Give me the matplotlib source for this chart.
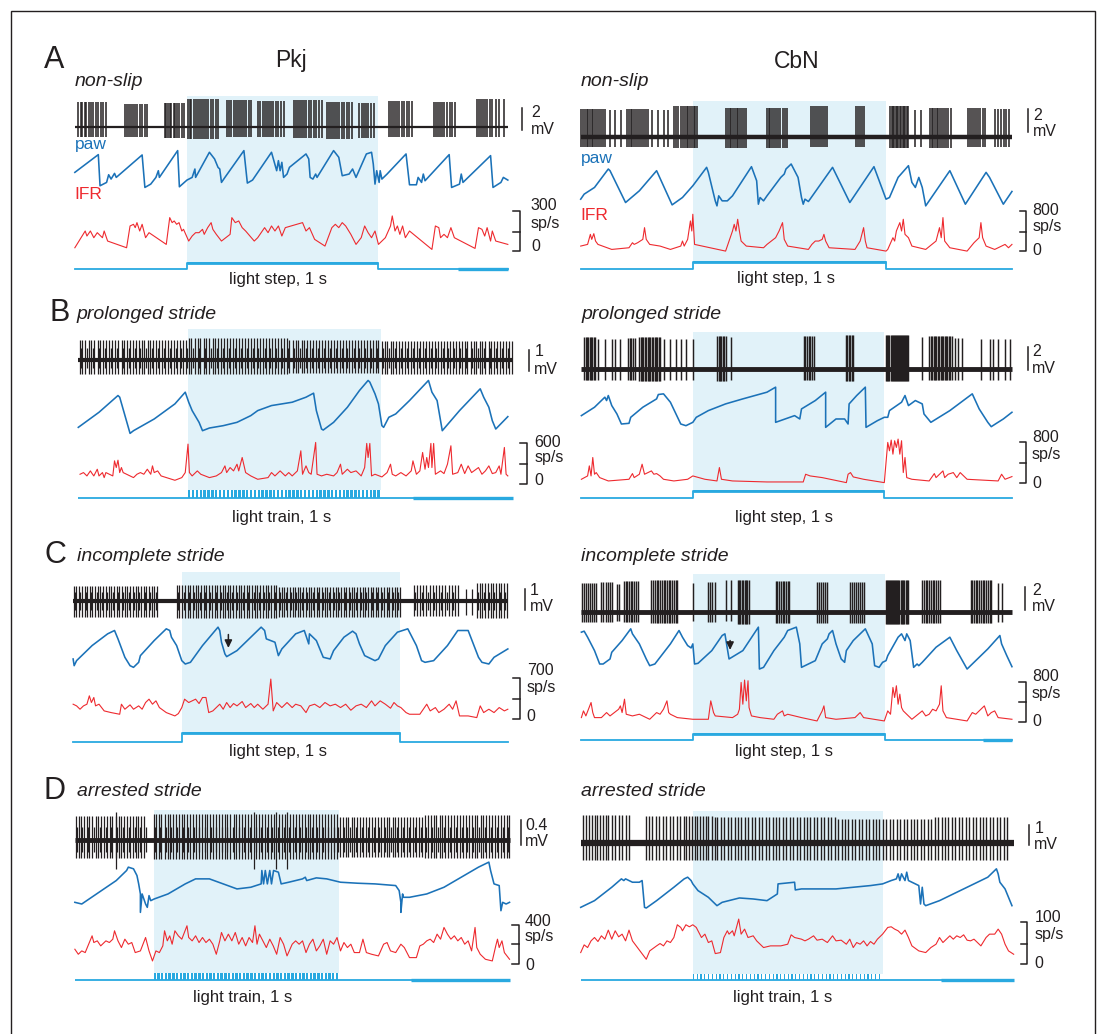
import numpy as np
import matplotlib
matplotlib.use("Agg")
import matplotlib.pyplot as plt
from matplotlib.patches import Rectangle

plt.rcParams['font.family'] = ['Liberation Sans', 'DejaVu Sans']

# ---------------------------------------------------------------- DATA
# Time is in sample units along each trace; amplitudes are in trace units
# (larger value = lower on the page). Spikes: (peak, trough, [spike times]).

# ---- A, Pkj (non-slip, light step)
A_PKJ_SPAN = (130, 1385)
A_PKJ_LIGHT = (455, 1010)
A_PKJ_SPIKES = [
    (215, 320, [140, 147, 152, 158, 163, 170, 176, 183, 190, 197, 205, 212, 220]),
    (222, 318, [275, 281, 287, 293, 299, 305, 311, 318, 325, 332, 340]),
    (218, 322, [390, 395, 400, 405, 410, 416, 421, 427, 433, 440, 447]),
    (205, 325, [458, 463, 468, 474, 480, 486, 492, 498, 504, 510, 517, 524, 531, 538, 545]),
    (210, 318, [572, 578, 584, 590, 596, 602, 608, 614, 620, 627, 634, 641]),
    (212, 320, [662, 668, 674, 680, 686, 692, 698, 705, 712, 720, 728, 736]),
    (210, 322, [765, 771, 777, 783, 789, 795, 801, 808, 815, 822, 830, 838, 845]),
    (215, 325, [860, 866, 872, 878, 884, 890, 896, 903, 910, 918, 926, 934]),
    (218, 322, [955, 961, 967, 973, 980, 988, 997]),
    (212, 318, [1040, 1046, 1052, 1058, 1064, 1070, 1077, 1084, 1092, 1100, 1108]),
    (215, 318, [1170, 1176, 1182, 1188, 1194, 1201, 1208, 1216, 1224, 1232]),
    (205, 318, [1295, 1301, 1307, 1313, 1319, 1325, 1332, 1340, 1350, 1360, 1375]),
]
A_PKJ_PAW = [(130, 425), (198, 372), (203, 465), (222, 455), (228, 432), (235, 445), (245, 428), (250, 440),
             (325, 373), (333, 470), (350, 460), (365, 440), (372, 420), (375, 440), (428, 360), (433, 468),
             (455, 448), (470, 440), (478, 415), (480, 440), (520, 365), (535, 385), (545, 410), (550, 415),
             (555, 455), (565, 440), (620, 360), (630, 457), (645, 448), (700, 365), (715, 420), (720, 390),
             (725, 420), (730, 395), (735, 440), (745, 430), (752, 410), (800, 370), (808, 385), (812, 440),
             (820, 445), (828, 430), (832, 440), (880, 360), (895, 380), (905, 435), (925, 430), (935, 415),
             (945, 440), (975, 370), (990, 365), (995, 400), (1000, 460), (1005, 420), (1012, 455), (1015, 420),
             (1020, 445), (1035, 430), (1090, 370), (1100, 462), (1120, 462), (1125, 440), (1135, 455),
             (1140, 430), (1145, 450), (1215, 372), (1222, 470), (1245, 460), (1250, 430), (1255, 455),
             (1335, 375), (1342, 470), (1365, 455), (1372, 440), (1385, 448)]
A_PKJ_IFR = [(130, 650), (160, 600), (165, 615), (175, 600), (185, 620), (195, 605), (210, 620), (215, 600),
             (225, 630), (280, 650), (290, 585), (300, 580), (305, 590), (310, 575), (318, 600), (325, 580),
             (335, 620), (345, 605), (395, 640), (405, 560), (412, 575), (418, 570), (425, 580), (432, 575),
             (440, 600), (445, 595), (460, 630), (470, 615), (480, 605), (490, 605), (500, 595), (505, 610),
             (515, 590), (525, 575), (530, 595), (540, 610), (555, 630), (580, 610), (585, 560), (595, 575),
             (605, 570), (615, 590), (625, 600), (650, 630), (660, 620), (680, 590), (690, 605), (700, 585),
             (710, 600), (720, 585), (730, 615), (740, 590), (790, 575), (800, 600), (810, 590), (825, 625),
             (855, 645), (875, 590), (885, 580), (895, 590), (905, 575), (915, 585), (930, 610), (945, 640),
             (960, 620), (970, 585), (980, 605), (990, 620), (1000, 600), (1010, 640), (1030, 620), (1045, 585),
             (1050, 555), (1058, 600), (1065, 585), (1072, 610), (1080, 585), (1088, 620), (1100, 600),
             (1165, 655), (1175, 585), (1185, 590), (1190, 620), (1200, 610), (1210, 620), (1220, 590),
             (1230, 620), (1290, 652), (1300, 590), (1310, 595), (1318, 615), (1325, 590), (1335, 630),
             (1340, 600), (1350, 630), (1385, 640)]

# ---- A, CbN (non-slip, light step)
A_CBN_SPAN = (60, 1310)
A_CBN_LIGHT = (385, 945)
A_CBN_SPIKES = [
    (235, 350, [62, 67, 72, 77, 82, 87, 92, 97, 102, 107, 112, 118, 124, 130]),
    (240, 348, [145, 160, 178]),
    (235, 350, [195, 200, 205, 210, 215, 220, 226, 232, 238, 244, 250, 256]),
    (240, 350, [268, 285, 300, 312]),
    (228, 352, [330, 336, 342, 350, 356, 362, 367, 372, 377, 382, 387, 392, 397]),
    (232, 352, [482, 487, 492, 497, 502, 507, 512, 517, 522, 528, 534, 540]),
    (232, 352, [600, 605, 610, 615, 620, 626, 632, 638, 645, 652, 658]),
    (228, 350, [727, 732, 738, 744, 750, 756, 762, 768, 774]),
    (228, 350, [858, 864, 870, 876, 882]),
    (228, 352, [957, 961, 965, 969, 973, 977, 981, 985, 989, 993, 997, 1001, 1005, 1010]),
    (240, 348, [1030, 1045]),
    (232, 352, [1072, 1077, 1082, 1087, 1092, 1097, 1102, 1108, 1114, 1120, 1126, 1132]),
    (232, 350, [1182, 1188, 1194, 1200, 1206, 1212, 1218, 1225, 1232]),
    (235, 350, [1262, 1270, 1278, 1286, 1294, 1302]),
]
A_CBN_PAW = [(60, 505), (70, 490), (100, 470), (140, 415), (145, 420), (190, 515), (230, 480), (280, 420),
             (325, 522), (355, 500), (385, 465), (425, 410), (430, 425), (450, 510), (455, 525), (460, 495),
             (470, 510), (485, 510), (500, 495), (555, 408), (570, 450), (575, 520), (580, 500), (590, 510),
             (600, 495), (640, 440), (650, 430), (655, 415), (670, 400), (690, 440), (700, 500), (705, 520),
             (710, 505), (720, 512), (790, 410), (840, 515), (910, 408), (945, 505), (955, 500), (980, 440),
             (1010, 405), (1020, 455), (1030, 470), (1040, 440), (1050, 470), (1060, 525), (1130, 420),
             (1175, 520), (1235, 425), (1245, 440), (1285, 520), (1310, 482)]
A_CBN_IFR = [(60, 645), (80, 640), (88, 610), (92, 625), (98, 608), (103, 630), (110, 640), (150, 655),
             (200, 650), (210, 635), (215, 640), (225, 635), (240, 625), (245, 590), (250, 625), (260, 640),
             (290, 645), (320, 655), (350, 645), (355, 630), (360, 645), (370, 625), (378, 570), (382, 600),
             (385, 550), (390, 640), (480, 660), (490, 630), (500, 600), (505, 580), (510, 600), (515, 565),
             (520, 600), (525, 630), (540, 645), (590, 650), (600, 640), (625, 620), (635, 600), (645, 575),
             (650, 625), (660, 645), (720, 655), (730, 640), (740, 630), (750, 630), (760, 625), (765, 610),
             (770, 630), (780, 650), (855, 655), (870, 630), (880, 590), (885, 630), (890, 650), (945, 660),
             (950, 655), (965, 620), (970, 630), (975, 600), (985, 575), (990, 600), (995, 565), (1000, 610),
             (1010, 620), (1020, 645), (1060, 655), (1090, 630), (1100, 590), (1105, 620), (1110, 560),
             (1115, 630), (1130, 650), (1180, 660), (1200, 635), (1215, 620), (1220, 575), (1225, 620),
             (1235, 645), (1260, 655), (1290, 640), (1300, 650), (1310, 640)]

# ---- B, Pkj (prolonged stride, light train)
B_PKJ_SPAN = (140, 1400)
B_PKJ_LIGHT = (458, 1018)
B_PKJ_SPIKES = [
    (150, 250, [145, 152, 160, 171, 178, 186, 197, 204, 213, 221, 230, 238, 247, 255, 266, 273, 281, 290, 299,
                306, 316, 324, 331, 341, 349, 357, 366, 374, 383, 391, 400, 409, 417, 426, 434, 443, 451]),
    (142, 252, [460, 468, 477, 486, 494, 503, 511, 520, 529, 537, 546, 555, 563, 572, 580, 589, 598, 606, 615,
                623, 632, 641, 649, 658, 666, 675, 684, 692, 701, 709, 718, 727, 735, 744]),
    (150, 248, [752, 761, 770, 778, 787, 795, 804, 813, 821, 830, 838, 847, 856, 864, 873, 881, 890, 899, 907,
                916, 924, 933, 942, 950, 959, 967, 976, 985, 993, 1002, 1010]),
    (152, 250, [1019, 1028, 1036, 1045, 1053, 1062, 1071, 1079, 1088, 1096, 1105, 1114, 1122, 1131, 1139, 1148,
                1157, 1165, 1174, 1182, 1191, 1200, 1208, 1217, 1225, 1234, 1243, 1251, 1260, 1268, 1277,
                1286, 1294, 1303, 1311, 1320, 1329, 1337, 1346, 1354, 1363, 1372, 1380, 1389, 1396]),
    (172, 232, [148, 165, 182, 200, 217, 234, 251, 269, 286, 303, 320, 337, 354, 371, 388, 405, 422, 439, 455,
                472, 490, 507, 524, 541, 559, 576, 593, 611, 628, 645, 662, 680, 697, 714, 731, 748, 766,
                783, 800, 817, 834, 852, 869, 886, 903, 920, 938, 955, 972, 989, 1006, 1024, 1041, 1058,
                1075, 1092, 1110, 1127, 1144, 1161, 1178, 1196, 1213, 1230, 1247, 1264, 1282, 1299, 1316,
                1333, 1350, 1368, 1385]),
]
B_PKJ_PAW = [(140, 410), (200, 365), (255, 315), (260, 320), (290, 428), (300, 420), (360, 385), (420, 340),
             (450, 305), (460, 335), (470, 360), (490, 395), (500, 420), (520, 412), (560, 405), (600, 395),
             (640, 375), (660, 360), (700, 345), (760, 335), (800, 320), (822, 308), (830, 360), (845, 415),
             (850, 418), (880, 395), (920, 350), (955, 300), (980, 270), (985, 275), (1000, 310), (1010, 340),
             (1020, 405), (1025, 410), (1040, 380), (1060, 370), (1100, 330), (1155, 270), (1165, 305),
             (1180, 330), (1195, 420), (1245, 360), (1305, 295), (1315, 320), (1330, 350), (1340, 390),
             (1350, 415), (1385, 378)]
B_PKJ_IFR = [(145, 550), (155, 545), (165, 555), (175, 540), (180, 548), (185, 555), (195, 535), (200, 555),
             (210, 545), (215, 560), (220, 545), (240, 555), (245, 510), (250, 530), (255, 508), (260, 545),
             (265, 530), (270, 545), (300, 560), (310, 550), (320, 545), (330, 550), (340, 535), (350, 550),
             (355, 525), (360, 545), (370, 540), (380, 555), (420, 568), (440, 560), (450, 545), (458, 460),
             (462, 545), (470, 555), (485, 540), (495, 550), (520, 560), (540, 555), (555, 545), (565, 525),
             (570, 545), (580, 530), (590, 540), (600, 520), (605, 540), (615, 500), (625, 545), (640, 555),
             (660, 565), (690, 560), (700, 545), (710, 555), (725, 540), (740, 555), (750, 545), (760, 555),
             (775, 540), (785, 480), (790, 550), (800, 525), (808, 545), (815, 550), (828, 455), (832, 550),
             (845, 555), (860, 550), (880, 555), (890, 545), (900, 520), (905, 550), (920, 535), (930, 545),
             (945, 540), (960, 555), (970, 530), (976, 458), (980, 500), (985, 458), (990, 555), (1000, 550),
             (1020, 558), (1035, 545), (1045, 520), (1050, 550), (1060, 555), (1075, 545), (1090, 555),
             (1105, 540), (1110, 510), (1120, 550), (1130, 540), (1138, 485), (1145, 535), (1150, 500),
             (1155, 530), (1162, 458), (1165, 530), (1170, 458), (1175, 550), (1190, 540), (1200, 548),
             (1210, 520), (1220, 465), (1225, 550), (1240, 545), (1250, 520), (1260, 548), (1270, 525),
             (1280, 545), (1300, 530), (1310, 550), (1320, 540), (1330, 525), (1340, 548), (1350, 545),
             (1360, 525), (1365, 550), (1375, 470), (1380, 550), (1385, 555)]

# ---- B, CbN (prolonged stride, light step)
B_CBN_SPAN = (62, 1310)
B_CBN_LIGHT = (385, 940)
B_CBN_SPIKES = [
    (140, 270, [70, 74, 78, 82, 86, 90, 94, 98, 102]),
    (145, 268, [110, 130, 150, 158, 175]),
    (142, 270, [197, 202, 207, 212, 217]),
    (140, 272, [230, 234, 238, 242, 246, 250, 254, 258, 262, 266, 270, 274, 278, 282, 286, 290]),
    (145, 268, [300, 320, 335, 350, 365, 385]),
    (138, 272, [456, 460, 464, 468, 472, 476, 480]),
    (140, 268, [495]),
    (138, 270, [706, 711, 716, 721, 726, 731, 736]),
    (135, 272, [829, 833, 837, 841, 845, 849]),
    (135, 272, [946, 949, 952, 955, 958, 961, 964, 967, 970, 973, 976, 979, 982, 985, 988, 991, 994, 997,
                1000, 1003, 1006, 1009]),
    (140, 268, [1050]),
    (138, 270, [1071, 1075, 1079, 1083, 1087, 1091, 1095, 1099, 1103, 1107, 1111, 1115, 1119, 1123, 1127,
                1131, 1135]),
    (142, 270, [1145, 1155, 1165]),
    (145, 270, [1220, 1245, 1255, 1270, 1290, 1305]),
]
B_CBN_PAW = [(62, 375), (100, 350), (130, 320), (135, 330), (140, 315), (150, 345), (165, 370), (178, 400),
             (200, 398), (205, 380), (240, 350), (280, 325), (285, 312), (300, 310), (320, 335), (350, 400),
             (365, 405), (385, 395), (395, 380), (430, 360), (480, 340), (530, 325), (600, 305), (625, 290),
             (625, 395), (680, 375), (695, 385), (700, 355), (740, 330), (770, 305), (770, 410), (800, 385),
             (825, 385), (835, 400), (838, 340), (860, 315), (885, 290), (887, 410), (920, 390), (940, 380),
             (950, 380), (955, 360), (990, 335), (1000, 315), (1010, 345), (1030, 330), (1050, 340),
             (1055, 370), (1075, 395), (1130, 360), (1195, 310), (1215, 355), (1240, 395), (1250, 408),
             (1265, 398), (1285, 385), (1310, 365)]
B_CBN_IFR = [(62, 565), (80, 555), (85, 525), (90, 555), (95, 500), (100, 550), (105, 545), (115, 560),
             (140, 570), (200, 565), (210, 548), (215, 560), (230, 550), (238, 520), (245, 550), (255, 545),
             (265, 540), (272, 550), (280, 548), (290, 555), (300, 565), (330, 570), (370, 565), (385, 555),
             (420, 565), (455, 570), (462, 530), (468, 565), (500, 570), (600, 573), (705, 573), (712, 550),
             (725, 555), (760, 560), (830, 575), (835, 550), (842, 545), (850, 558), (880, 565), (940, 575),
             (950, 455), (955, 480), (960, 448), (965, 490), (970, 450), (975, 470), (980, 445), (985, 490),
             (990, 450), (995, 545), (1000, 500), (1005, 560), (1020, 565), (1070, 570), (1085, 548),
             (1090, 560), (1100, 550), (1110, 540), (1115, 560), (1125, 550), (1140, 545), (1150, 560),
             (1160, 545), (1170, 555), (1180, 565), (1270, 570), (1280, 550), (1290, 565), (1310, 557)]

# ---- C, Pkj (incomplete stride, light step)
C_PKJ_SPAN = (125, 1385)
C_PKJ_LIGHT = (440, 1072)
C_PKJ_SPIKES = [
    (168, 260, [127, 134, 142, 150, 158, 165, 173, 181, 189, 197, 204, 212, 220, 228, 236, 243, 251, 259, 267,
                275, 282, 290, 298, 306, 314, 321, 329, 337, 345, 353, 360, 368]),
    (165, 262, [426, 433, 441, 449, 457, 464, 472, 480, 488, 496, 503, 511, 519, 527, 535, 542, 550, 558, 566,
                574, 581, 589, 597, 605, 613, 620, 628, 636, 644, 652, 659, 667, 675, 683, 691, 698, 706, 714]),
    (170, 260, [722, 730, 737, 745, 753, 761, 769, 776, 784, 792, 800, 808, 815, 823, 831, 839, 847, 854, 862,
                870, 878, 886, 893, 901, 909, 917, 925, 932, 940, 948, 956, 964, 971, 979, 987, 995, 1003,
                1010, 1018, 1026, 1034, 1042, 1049, 1057, 1065, 1072]),
    (165, 258, [1112, 1121, 1130, 1140, 1149, 1158, 1167, 1177, 1186, 1195, 1204, 1214, 1223, 1232, 1240]),
    (175, 255, [1265, 1280]),
    (158, 262, [1296, 1303, 1311, 1319, 1327, 1335, 1342, 1350, 1358, 1366, 1374, 1382]),
    (185, 240, [130, 146, 162, 177, 193, 208, 224, 240, 255, 271, 286, 302, 317, 333, 349, 364, 430, 445, 461,
                476, 492, 507, 523, 539, 554, 570, 585, 601, 616, 632, 648, 663, 679, 694, 710, 726, 741,
                757, 772, 788, 803, 819, 835, 850, 866, 881, 897, 912, 928, 944, 959, 975, 990, 1006, 1021,
                1037, 1053, 1068, 1117, 1135, 1153, 1172, 1190, 1209, 1227, 1300, 1315, 1331, 1346, 1362,
                1378]),
]
C_PKJ_PAW = [(125, 385), (128, 405), (135, 390), (180, 345), (225, 310), (245, 300), (255, 325), (275, 380),
             (290, 405), (300, 410), (315, 395), (320, 375), (360, 330), (395, 295), (405, 300), (410, 320),
             (425, 345), (440, 390), (450, 400), (465, 395), (500, 345), (545, 290), (550, 300), (555, 335),
             (565, 370), (570, 378), (600, 360), (640, 320), (670, 290), (680, 300), (685, 325), (710, 335),
             (720, 375), (730, 355), (770, 310), (795, 300), (808, 340), (810, 310), (830, 330), (850, 380),
             (870, 385), (880, 360), (910, 320), (935, 302), (945, 310), (955, 340), (970, 375), (1000, 390),
             (1010, 385), (1030, 345), (1065, 305), (1095, 295), (1100, 305), (1120, 345), (1135, 390),
             (1145, 395), (1170, 390), (1210, 345), (1240, 300), (1270, 300), (1285, 340), (1300, 380),
             (1310, 395), (1330, 400), (1345, 380), (1385, 355)]
C_PKJ_IFR = [(125, 520), (135, 525), (145, 535), (155, 525), (165, 520), (172, 495), (178, 515), (185, 500),
             (190, 525), (200, 520), (215, 540), (235, 545), (260, 550), (265, 520), (275, 535), (290, 522),
             (300, 535), (315, 525), (325, 535), (335, 515), (345, 505), (355, 520), (365, 510), (375, 530),
             (395, 545), (420, 555), (430, 548), (440, 530), (448, 505), (460, 515), (480, 505), (490, 518),
             (500, 500), (510, 500), (518, 545), (530, 540), (550, 520), (560, 535), (570, 515), (580, 530),
             (590, 518), (600, 525), (615, 512), (625, 530), (640, 518), (650, 530), (660, 520), (675, 535),
             (690, 520), (698, 445), (705, 540), (715, 515), (730, 530), (745, 515), (760, 530), (770, 520),
             (785, 525), (800, 545), (810, 525), (825, 520), (840, 530), (855, 515), (870, 525), (885, 520),
             (900, 530), (915, 520), (930, 538), (945, 525), (960, 520), (975, 530), (990, 510), (1000, 525),
             (1015, 510), (1030, 520), (1045, 532), (1055, 515), (1065, 525), (1075, 530), (1090, 545),
             (1100, 550), (1130, 550), (1150, 520), (1160, 540), (1175, 530), (1185, 545), (1200, 535),
             (1215, 520), (1225, 535), (1235, 510), (1245, 555), (1270, 555), (1295, 560), (1305, 525),
             (1315, 545), (1330, 535), (1345, 545), (1360, 530), (1375, 540), (1385, 535)]
C_PKJ_ARROW = (575, 312, 352)

# ---- C, CbN (incomplete stride, light step)
C_CBN_SPAN = (62, 1310)
C_CBN_LIGHT = (385, 942)
C_CBN_SPIKES = [
    (158, 275, [65, 70, 75, 80, 86, 92, 98, 104]),
    (155, 275, [120, 126, 132, 138, 144, 150]),
    (160, 272, [165, 172]),
    (152, 275, [185, 190, 195, 200, 205, 210, 215, 220, 225]),
    (150, 278, [265, 270, 275, 280, 285, 290, 295, 300, 305, 310, 315, 320, 325, 330, 335, 340]),
    (158, 272, [385]),
    (155, 275, [430, 436, 442, 448]),
    (150, 272, [480, 495]),
    (150, 280, [515, 519, 523, 527, 531, 535, 539, 543, 547]),
    (152, 278, [625, 630, 635, 640, 645, 650, 655, 660, 665]),
    (155, 278, [745, 751, 757, 763, 769, 775]),
    (155, 278, [840, 846, 852, 858, 864, 870, 876, 880]),
    (150, 280, [945, 948, 951, 954, 957, 960, 963, 966, 969, 972, 975, 978, 981, 984, 987, 990, 994, 998,
                1002, 1006, 1010]),
    (150, 278, [1050, 1055, 1060, 1065, 1070, 1075, 1080, 1085, 1090, 1095, 1100]),
    (150, 278, [1190, 1195, 1200, 1205, 1210, 1215, 1220, 1225, 1230, 1235, 1240, 1245, 1250]),
    (158, 275, [1270, 1282]),
]
C_CBN_PAW = [(62, 305), (70, 302), (80, 320), (100, 360), (115, 400), (125, 400), (145, 385), (150, 365),
             (180, 330), (205, 295), (210, 310), (230, 340), (250, 385), (260, 405), (275, 400), (290, 380),
             (320, 340), (345, 300), (355, 320), (370, 345), (380, 352), (385, 340), (390, 400), (400, 398),
             (440, 360), (470, 315), (478, 310), (490, 385), (530, 360), (575, 290), (578, 415), (590, 410),
             (620, 360), (650, 320), (660, 300), (685, 290), (695, 340), (700, 410), (710, 405), (720, 400),
             (740, 390), (760, 340), (775, 325), (780, 310), (790, 300), (800, 340), (815, 385), (825, 395),
             (830, 360), (850, 330), (885, 295), (905, 340), (912, 405), (925, 410), (935, 395), (945, 390),
             (950, 375), (980, 320), (990, 310), (1000, 330), (1005, 310), (1015, 330), (1025, 410),
             (1035, 400), (1040, 405), (1050, 395), (1090, 350), (1130, 320), (1150, 360), (1180, 415),
             (1240, 355), (1275, 315), (1280, 340), (1295, 375), (1310, 408)]
C_CBN_IFR = [(62, 560), (68, 540), (75, 555), (90, 515), (95, 545), (100, 560), (120, 560), (135, 545),
             (145, 555), (170, 535), (175, 525), (180, 545), (187, 505), (192, 550), (210, 555), (230, 550),
             (260, 565), (280, 545), (290, 550), (300, 535), (310, 510), (315, 545), (320, 550), (340, 560),
             (385, 565), (430, 565), (437, 510), (445, 545), (450, 555), (500, 560), (515, 550), (520, 535),
             (525, 455), (530, 520), (535, 448), (540, 510), (545, 450), (548, 530), (555, 555), (580, 560),
             (620, 565), (630, 550), (645, 540), (650, 555), (660, 550), (700, 560), (745, 570), (760, 540),
             (765, 525), (770, 560), (800, 565), (855, 560), (870, 545), (880, 560), (940, 570), (950, 540),
             (958, 550), (965, 470), (970, 500), (975, 465), (980, 520), (985, 490), (990, 530), (995, 540),
             (1000, 545), (1020, 565), (1050, 540), (1060, 555), (1070, 550), (1080, 535), (1090, 540),
             (1100, 520), (1105, 465), (1110, 540), (1120, 560), (1180, 570), (1195, 545), (1205, 550),
             (1215, 540), (1230, 525), (1240, 555), (1250, 545), (1260, 540), (1270, 560), (1310, 565)]
C_CBN_ARROW = (493, 330, 358)

# ---- D, Pkj (arrested stride, light train)
D_PKJ_SPAN = (130, 1390)
D_PKJ_LIGHT = (358, 897)
D_PKJ_SPIKES = [
    (138, 262, [132, 141, 148, 157, 165, 172, 181, 190, 197, 206, 214, 223, 232, 239, 248, 257, 265, 272,
                281, 291, 298, 306, 314, 323, 331]),
    (132, 265, [360, 366, 374, 381, 390, 399, 406, 415, 422, 431, 440, 447, 456, 465, 473, 480, 489, 498,
                506, 513, 522, 531, 539, 547, 556, 564, 572, 581, 590, 597, 606, 615, 622, 631, 640, 656,
                664, 673, 681, 690, 699, 706, 722, 730, 738, 754, 763, 770, 779, 788, 796, 805, 813, 821,
                830, 838, 847, 855, 864, 872, 881, 889]),
    (140, 260, [898, 906, 915, 923, 932, 940, 949, 957, 966, 974, 983, 991, 1000, 1008, 1017, 1025, 1034,
                1042, 1051, 1059, 1068, 1076, 1085, 1093, 1102, 1110, 1119, 1127, 1136]),
    (135, 262, [1144, 1153, 1161, 1170, 1178, 1187, 1195, 1204, 1212, 1221, 1229, 1238, 1246, 1255, 1263,
                1272, 1280, 1289, 1297, 1306, 1314, 1323, 1331, 1340, 1348, 1357, 1365, 1374, 1382, 1389]),
    (125, 295, [250, 648, 712, 745]),
    (170, 245, [136, 152, 169, 186, 202, 219, 236, 253, 269, 286, 303, 319, 336, 363, 378, 394, 410, 426,
                443, 459, 475, 491, 508, 524, 540, 556, 572, 589, 605, 621, 637, 654, 670, 686, 702, 718,
                735, 751, 767, 783, 799, 816, 832, 848, 864, 880, 894, 911, 928, 945, 962, 979, 996, 1013,
                1030, 1047, 1064, 1081, 1098, 1115, 1132, 1149, 1166, 1183, 1200, 1217, 1234, 1251, 1268,
                1285, 1302, 1319, 1336, 1353, 1370, 1386]),
]
D_PKJ_PAW = [(130, 395), (150, 400), (200, 365), (250, 330), (280, 300), (285, 290), (300, 295), (310, 315),
             (315, 340), (320, 370), (320, 425), (325, 370), (335, 400), (340, 410), (345, 375), (350, 390),
             (360, 385), (400, 370), (450, 340), (480, 325), (520, 325), (560, 340), (600, 355), (640, 350),
             (670, 340), (672, 300), (677, 340), (682, 300), (688, 340), (695, 300), (700, 340), (706, 300),
             (720, 305), (728, 340), (750, 335), (790, 325), (798, 320), (802, 330), (830, 322), (860, 325),
             (900, 335), (950, 338), (1000, 340), (1060, 345), (1070, 360), (1075, 395), (1075, 425),
             (1080, 370), (1082, 380), (1100, 380), (1150, 370), (1200, 350), (1250, 320), (1300, 290),
             (1330, 275), (1335, 300), (1345, 340), (1360, 345), (1365, 420), (1370, 395), (1380, 400),
             (1390, 395)]
D_PKJ_IFR = [(130, 535), (140, 550), (150, 540), (160, 545), (170, 520), (180, 495), (185, 515), (195, 510),
             (205, 525), (210, 520), (220, 510), (230, 515), (240, 505), (245, 480), (255, 510), (265, 530),
             (275, 505), (285, 520), (295, 515), (305, 545), (320, 540), (335, 500), (345, 540), (355, 570),
             (365, 540), (375, 545), (385, 525), (390, 480), (398, 510), (405, 495), (412, 520), (420, 480),
             (430, 495), (440, 505), (455, 465), (460, 500), (470, 510), (480, 495), (490, 515), (500, 500),
             (510, 515), (520, 505), (530, 520), (540, 550), (550, 510), (555, 485), (565, 510), (575, 490),
             (585, 510), (595, 485), (605, 520), (615, 500), (625, 525), (635, 500), (645, 515), (652, 465),
             (658, 520), (665, 490), (675, 510), (685, 530), (695, 505), (705, 525), (715, 550), (725, 500),
             (735, 520), (745, 555), (760, 520), (770, 510), (780, 520), (790, 510), (800, 545), (810, 520),
             (820, 505), (830, 540), (840, 525), (850, 505), (860, 550), (870, 510), (880, 520), (890, 500),
             (900, 540), (910, 515), (920, 530), (930, 520), (940, 545), (955, 545), (965, 505), (975, 545),
             (990, 550), (1010, 555), (1025, 520), (1035, 515), (1045, 540), (1060, 545), (1075, 520),
             (1085, 530), (1100, 560), (1120, 560), (1130, 525), (1140, 520), (1150, 510), (1160, 505),
             (1170, 515), (1180, 490), (1190, 505), (1200, 470), (1210, 490), (1220, 505), (1230, 495),
             (1240, 510), (1250, 500), (1260, 520), (1270, 510), (1280, 540), (1290, 470), (1295, 530),
             (1305, 550), (1320, 565), (1340, 570), (1350, 525), (1355, 505), (1360, 530), (1368, 510),
             (1375, 545), (1390, 565)]

# ---- D, CbN (arrested stride, light train)
D_CBN_SPAN = (60, 1315)
D_CBN_LIGHT = (385, 935)
D_CBN_SPIKES = [
    (135, 268, [68, 76, 84, 92, 100, 108, 116, 124, 132, 140, 150, 160, 170, 180, 190, 200]),
    (138, 270, [248, 258, 268, 278, 288, 298, 308, 318, 328, 338, 348, 358, 366, 374, 382, 390, 398, 406,
                414, 422, 430, 440]),
    (140, 270, [448, 456, 466, 476, 486, 496, 506, 516, 526, 536, 546, 556, 566, 576, 586, 596, 606, 616,
                626, 636, 646, 656, 666, 676, 686, 696, 706, 716, 726, 736, 746, 756, 766, 776, 786, 796]),
    (145, 268, [806, 816, 826, 836, 846, 856, 866, 876, 886, 896, 906, 916, 926, 936, 946, 956, 966, 976,
                986, 996, 1006, 1016, 1026, 1036, 1046, 1056, 1066, 1076]),
    (140, 270, [1086, 1096, 1106, 1116, 1126, 1136, 1146, 1156, 1166, 1176, 1186, 1196, 1206, 1216, 1226,
                1236, 1246, 1256, 1266, 1276, 1286, 1296]),
]
D_CBN_PAW = [(60, 410), (100, 390), (150, 350), (178, 325), (185, 330), (190, 325), (200, 330), (210, 335),
             (230, 335), (238, 330), (245, 410), (250, 412), (280, 390), (330, 350), (360, 325), (370, 320),
             (380, 330), (385, 340), (400, 360), (430, 380), (455, 405), (470, 395), (520, 382), (560, 385),
             (600, 390), (630, 370), (632, 340), (680, 335), (682, 358), (700, 355), (750, 355), (800, 355),
             (850, 350), (900, 345), (935, 340), (960, 330), (975, 325), (980, 310), (985, 330), (990, 310),
             (1000, 330), (1005, 305), (1010, 330), (1020, 335), (1040, 345), (1045, 400), (1050, 350),
             (1055, 400), (1060, 405), (1100, 390), (1150, 365), (1200, 340), (1240, 320), (1265, 295),
             (1270, 310), (1275, 335), (1290, 355), (1310, 405)]
D_CBN_IFR = [(60, 545), (70, 522), (80, 530), (90, 510), (100, 500), (110, 512), (120, 495), (130, 505),
             (140, 478), (150, 505), (160, 480), (170, 498), (180, 490), (190, 510), (200, 478), (210, 510),
             (250, 565), (260, 540), (280, 525), (290, 518), (300, 525), (310, 510), (320, 515), (330, 500),
             (340, 462), (350, 470), (355, 480), (365, 462), (375, 468), (385, 462), (395, 470), (410, 500),
             (420, 490), (430, 515), (440, 510), (450, 548), (465, 545), (475, 500), (485, 480), (490, 490),
             (500, 480), (505, 495), (518, 445), (525, 490), (535, 475), (545, 500), (560, 495), (570, 510),
             (580, 520), (590, 530), (610, 525), (640, 525), (660, 520), (670, 492), (680, 500), (700, 505),
             (710, 510), (720, 505), (735, 495), (745, 508), (760, 505), (775, 515), (790, 495), (800, 510),
             (815, 508), (830, 520), (840, 505), (850, 530), (860, 515), (870, 520), (880, 510), (890, 525),
             (900, 512), (910, 520), (920, 505), (935, 490), (950, 470), (960, 468), (970, 475), (980, 480),
             (990, 490), (1000, 478), (1010, 500), (1020, 525), (1040, 540), (1060, 545), (1075, 530),
             (1090, 520), (1100, 500), (1110, 515), (1120, 505), (1130, 495), (1140, 505), (1150, 495),
             (1160, 500), (1170, 492), (1180, 508), (1190, 510), (1200, 505), (1210, 515), (1220, 525),
             (1235, 500), (1245, 490), (1260, 490), (1270, 475), (1280, 490), (1290, 520), (1300, 540),
             (1315, 550)]

LIGHT_TRAIN_PULSES = 50   # pulses in the 1-s light train

# scale-bar labels
MV_LABELS = {'A_PKJ': '2', 'A_CBN': '2', 'B_PKJ': '1', 'B_CBN': '2',
             'C_PKJ': '1', 'C_CBN': '2', 'D_PKJ': '0.4', 'D_CBN': '1'}
IFR_LABELS = {'A_PKJ': '300', 'A_CBN': '800', 'B_PKJ': '600', 'B_CBN': '800',
              'C_PKJ': '700', 'C_CBN': '800', 'D_PKJ': '400', 'D_CBN': '100'}
CONDITIONS = {'A': 'non-slip', 'B': 'prolonged stride', 'C': 'incomplete stride', 'D': 'arrested stride'}
STIM_LABELS = {'A_PKJ': 'light step, 1 s', 'A_CBN': 'light step, 1 s', 'B_PKJ': 'light train, 1 s',
               'B_CBN': 'light step, 1 s', 'C_PKJ': 'light step, 1 s', 'C_CBN': 'light step, 1 s',
               'D_PKJ': 'light train, 1 s', 'D_CBN': 'light train, 1 s'}

DATA = {
    'A_PKJ': (A_PKJ_SPAN, A_PKJ_LIGHT, A_PKJ_SPIKES, A_PKJ_PAW, A_PKJ_IFR),
    'A_CBN': (A_CBN_SPAN, A_CBN_LIGHT, A_CBN_SPIKES, A_CBN_PAW, A_CBN_IFR),
    'B_PKJ': (B_PKJ_SPAN, B_PKJ_LIGHT, B_PKJ_SPIKES, B_PKJ_PAW, B_PKJ_IFR),
    'B_CBN': (B_CBN_SPAN, B_CBN_LIGHT, B_CBN_SPIKES, B_CBN_PAW, B_CBN_IFR),
    'C_PKJ': (C_PKJ_SPAN, C_PKJ_LIGHT, C_PKJ_SPIKES, C_PKJ_PAW, C_PKJ_IFR),
    'C_CBN': (C_CBN_SPAN, C_CBN_LIGHT, C_CBN_SPIKES, C_CBN_PAW, C_CBN_IFR),
    'D_PKJ': (D_PKJ_SPAN, D_PKJ_LIGHT, D_PKJ_SPIKES, D_PKJ_PAW, D_PKJ_IFR),
    'D_CBN': (D_CBN_SPAN, D_CBN_LIGHT, D_CBN_SPIKES, D_CBN_PAW, D_CBN_IFR),
}

# ---------------------------------------------------------------- LAYOUT / STYLE
W, H = 1099, 1034
SX, SY = 0.345, 0.335          # figure pixels per trace unit
BLACK = '#231f20'
BLUE = '#1b72b8'
RED = '#ee2a2f'
LIGHT = '#29a9e0'
SHADE = '#e1f2f9'

LAYOUT = {
    'A_PKJ': dict(o=(30, 30), h=260, base=290, blw=1.6, slw=1.1, shade=198, lo=712, hi=695, train=False,
                  thick=1240, mvx=1427, mvy=(233, 300), mvt=(1452, 247, 296), brx=1420, bry=(540, 602, 660),
                  brt=(1452, 523, 577, 645), stim=(720, 745)),
    'A_CBN': dict(o=(560, 30), h=260, base=320, blw=3.2, slw=1.1, shade=212, lo=712, hi=693, train=False,
                  thick=None, mvx=1357, mvy=(235, 305), mvt=(1372, 254, 303), brx=1352, bry=(540, 602, 660),
                  brt=(1370, 540, 587, 658), stim=(655, 742)),
    'B_PKJ': dict(o=(30, 290), h=240, base=210, blw=3.0, slw=0.9, shade=115, lo=620, hi=598, train=True,
                  thick=1110, mvx=1445, mvy=(178, 242), mvt=(1462, 185, 238), brx=1440, bry=(458, 518, 578),
                  brt=(1462, 455, 500, 570), stim=(728, 680), pw=7),
    'B_CBN': dict(o=(560, 290), h=240, base=235, blw=3.5, slw=1.05, shade=125, lo=620, hi=600, train=False,
                  thick=None, mvx=1357, mvy=(170, 240), mvt=(1368, 185, 235), brx=1352, bry=(455, 515, 575),
                  brt=(1368, 440, 490, 578), stim=(650, 680)),
    'C_PKJ': dict(o=(30, 530), h=230, base=213, blw=3.0, slw=0.9, shade=125, lo=632, hi=605, train=False,
                  thick=None, mvx=1435, mvy=(175, 240), mvt=(1448, 180, 228), brx=1420, bry=(443, 503, 563),
                  brt=(1440, 420, 470, 558), stim=(720, 660)),
    'C_CBN': dict(o=(560, 530), h=230, base=245, blw=3.5, slw=1.05, shade=132, lo=628, hi=608, train=False,
                  thick=1225, mvx=1348, mvy=(170, 240), mvt=(1368, 180, 228), brx=1350, bry=(453, 512, 572),
                  brt=(1368, 437, 487, 572), stim=(650, 660)),
    'D_PKJ': dict(o=(30, 770), h=240, base=210, blw=3.5, slw=0.9, shade=120, lo=627, hi=605, train=True,
                  thick=1105, mvx=1422, mvy=(148, 225), mvt=(1435, 165, 212), brx=1418, bry=(463, 520, 578),
                  brt=(1435, 452, 498, 583), stim=(615, 680), pw=7),
    'D_CBN': dict(o=(560, 770), h=240, base=217, blw=4.5, slw=1.0, shade=123, lo=627, hi=608, train=True,
                  thick=1105, mvx=1360, mvy=(165, 225), mvt=(1375, 175, 222), brx=1355, bry=(455, 518, 578),
                  brt=(1375, 440, 490, 578), stim=(645, 680), pw=3.5),
}

FS_LAB = 12
fig = plt.figure(figsize=(W / 100, H / 100), dpi=100)
fig.patch.set_facecolor('white')


def panel_axes(ox, oy, h, w=540):
    ax = fig.add_axes([ox / W, 1 - (oy + h) / H, w / W, h / H])
    ax.set_xlim(0, w / SX)
    ax.set_ylim(h / SY, 0)
    ax.axis('off')
    return ax


axes = {}
for key, (span, light, spikes, paw, ifr) in DATA.items():
    L = LAYOUT[key]
    ax = panel_axes(L['o'][0], L['o'][1], L['h'])
    axes[key] = ax
    t0, t1 = span
    on, off = light
    # shaded light period
    ax.fill_between([on, off], L['shade'], L['hi'], color=SHADE, lw=0, zorder=0)
    # extracellular recording
    ax.plot([t0, t1], [L['base'], L['base']], color=BLACK, lw=L['blw'], solid_capstyle='butt', zorder=2)
    for top, bot, times in spikes:
        ax.vlines(times, top, bot, color=BLACK, lw=L['slw'], zorder=2)
    # paw position
    pt, pv = zip(*paw)
    ax.plot(pt, pv, color=BLUE, lw=1.15, zorder=3)
    # instantaneous firing rate
    it, iv = zip(*ifr)
    ax.plot(it, iv, color=RED, lw=0.8, zorder=3)
    # light stimulus
    if L['train']:
        ax.plot([t0, t1], [L['lo'], L['lo']], color=LIGHT, lw=1.3, solid_capstyle='butt')
        pulses = np.linspace(on, off, LIGHT_TRAIN_PULSES, endpoint=False)
        ax.bar(pulses, L['lo'] - L['hi'], width=L['pw'], bottom=L['hi'], align='edge',
               color=LIGHT, lw=0)
    else:
        ax.plot([t0, on, on, off, off, t1], [L['lo'], L['lo'], L['hi'], L['hi'], L['lo'], L['lo']],
                color=LIGHT, lw=1.3)
        ax.plot([on, off], [L['hi'], L['hi']], color=LIGHT, lw=2.0, solid_capstyle='butt')
    if L['thick']:
        ax.plot([L['thick'], t1], [L['lo'], L['lo']], color=LIGHT, lw=2.4, solid_capstyle='butt')
    # mV scale bar
    ax.plot([L['mvx'], L['mvx']], L['mvy'], color=BLACK, lw=1.1)
    mx, my1, my2 = L['mvt']
    ax.text(mx, my1, MV_LABELS[key], fontsize=11.5, ha='left', va='center', color=BLACK)
    ax.text(mx, my2, 'mV', fontsize=11.5, ha='left', va='center', color=BLACK)
    # IFR bracket
    bx = L['brx']
    b0, b1, b2 = L['bry']
    ax.plot([bx - 20, bx, bx, bx - 20], [b0, b0, b2, b2], color=BLACK, lw=1.1)
    ax.plot([bx - 20, bx], [b1, b1], color=BLACK, lw=1.1)
    tx, ty0, ty1, ty2 = L['brt']
    ax.text(tx, ty0, IFR_LABELS[key], fontsize=11.5, ha='left', va='center', color=BLACK)
    ax.text(tx, ty1, 'sp/s', fontsize=11.5, ha='left', va='center', color=BLACK)
    ax.text(tx, ty2, '0', fontsize=11.5, ha='left', va='center', color=BLACK)
    # stimulus label
    sx_, sy_ = L['stim']
    ax.text(sx_, sy_, STIM_LABELS[key], fontsize=FS_LAB, ha='center', va='center', color=BLACK)

# arrows (panel C)
for key, (ax_x, ay0, ay1) in (('C_PKJ', C_PKJ_ARROW), ('C_CBN', C_CBN_ARROW)):
    axes[key].annotate('', xy=(ax_x, ay1), xytext=(ax_x, ay0),
                       arrowprops=dict(arrowstyle='-|>,head_width=0.22,head_length=0.45',
                                       color=BLACK, lw=1.1, shrinkA=0, shrinkB=0))

# panel letters, column titles, condition labels
axA, axAc = axes['A_PKJ'], axes['A_CBN']
axA.text(70, 90, 'A', fontsize=22, ha='center', va='center', color=BLACK)
axA.text(757, 90, 'Pkj', fontsize=16.5, ha='center', va='center', color=BLACK)
axAc.text(685, 95, 'CbN', fontsize=16.5, ha='center', va='center', color=BLACK)
axA.text(130, 155, CONDITIONS['A'], fontsize=14, style='italic', ha='left', va='center', color=BLACK)
axAc.text(60, 155, CONDITIONS['A'], fontsize=14, style='italic', ha='left', va='center', color=BLACK)
axA.text(130, 342, 'paw', fontsize=12.5, ha='left', va='center', color=BLUE)
axAc.text(60, 385, 'paw', fontsize=12.5, ha='left', va='center', color=BLUE)
axA.text(130, 490, 'IFR', fontsize=12.5, ha='left', va='center', color=RED)
axAc.text(60, 555, 'IFR', fontsize=12.5, ha='left', va='center', color=RED)

for letter, lx, ly, cy in (('B', 85, 70, 72), ('C', 75, 75, 78), ('D', 72, 62, 65)):
    axp = axes[letter + '_PKJ']
    axc = axes[letter + '_CBN']
    axp.text(lx, ly, letter, fontsize=22, ha='center', va='center', color=BLACK)
    axp.text(135, cy, CONDITIONS[letter], fontsize=14, style='italic', ha='left', va='center', color=BLACK)
    axc.text(62, cy, CONDITIONS[letter], fontsize=14, style='italic', ha='left', va='center', color=BLACK)

# outer frame
fig.add_artist(Rectangle((11 / W, -0.01), (1095 - 11) / W, 1 - 11 / H + 0.01, transform=fig.transFigure,
                         fill=False, ec=BLACK, lw=1.0))

fig.savefig('out.png', dpi=100, facecolor='white')
